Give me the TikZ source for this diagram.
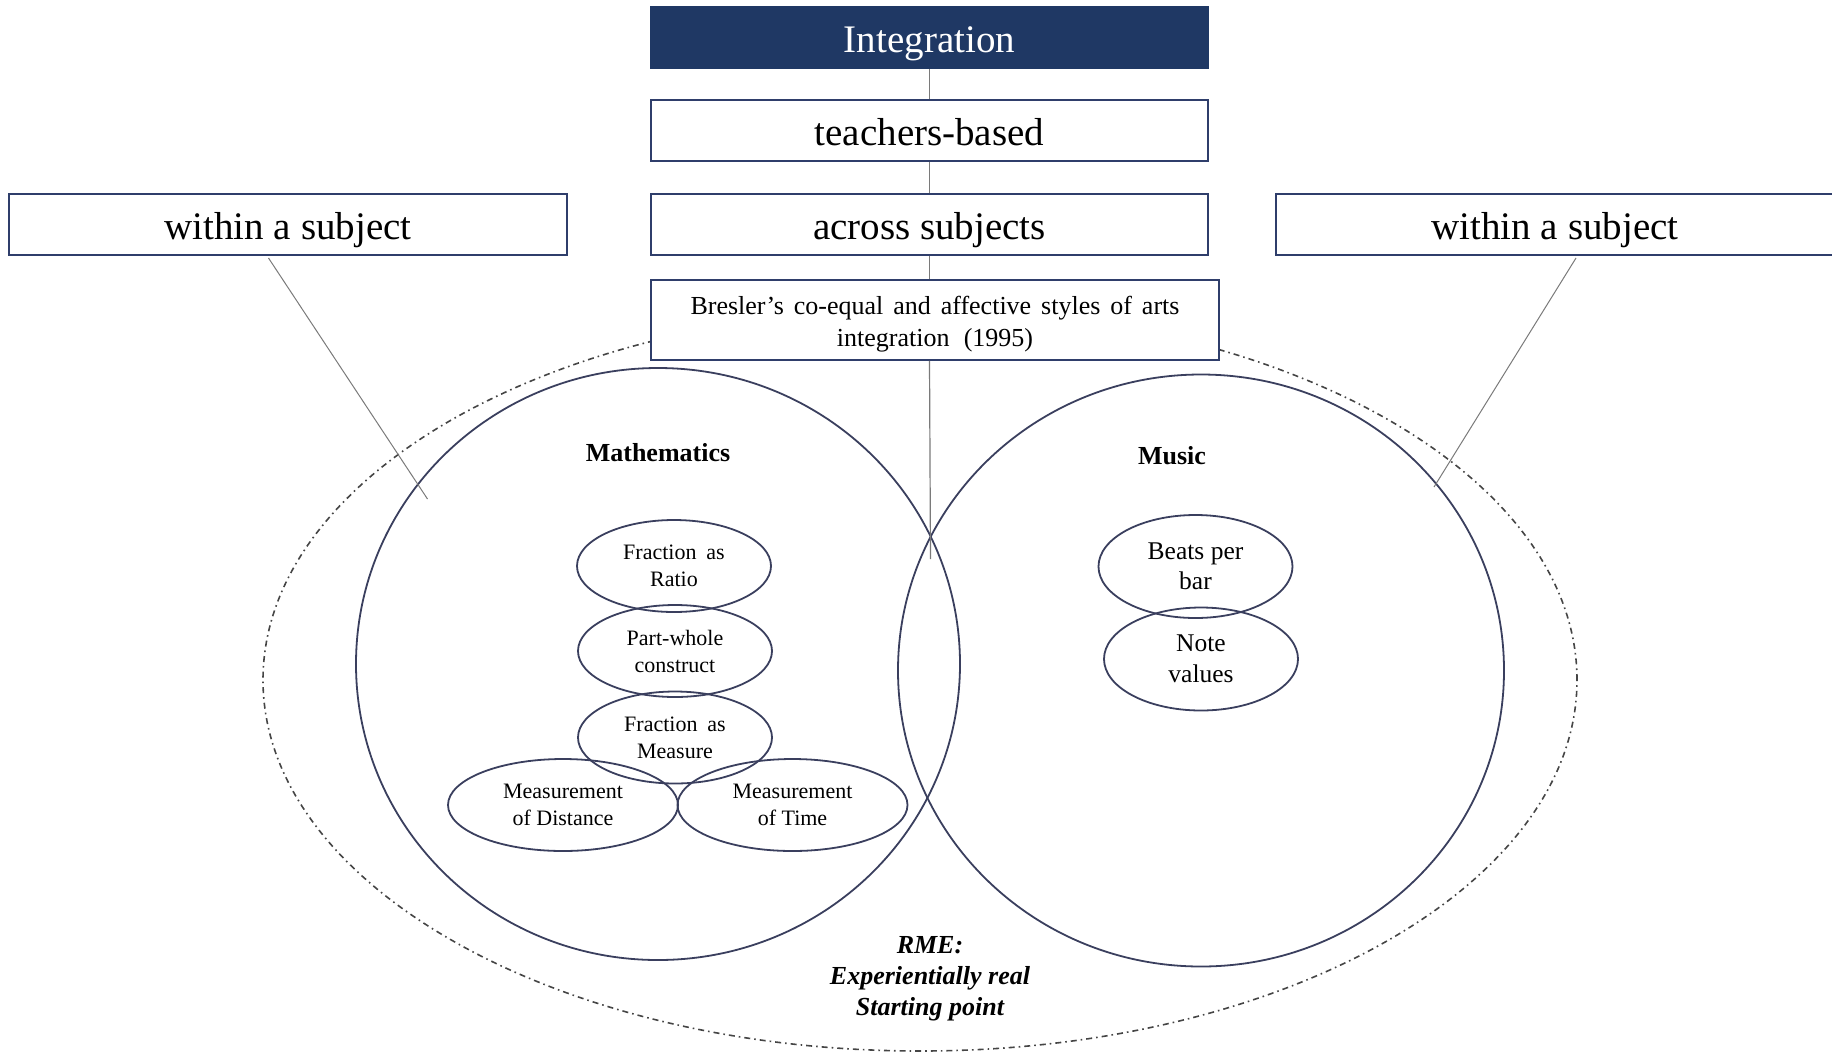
\documentclass[tikz,border=0pt]{standalone}
\usepackage{fontspec}
\setmainfont{Liberation Serif}
\usetikzlibrary{shapes.geometric}
\definecolor{navy}{HTML}{1F3864}
\definecolor{boxline}{HTML}{2F3E6B}
\definecolor{ringline}{HTML}{3A3F5E}
\definecolor{leader}{HTML}{7A7A7A}
\definecolor{outline}{HTML}{454545}

\begin{document}
\begin{tikzpicture}[x=0.5pt,y=-0.5pt,
  box/.style={draw=boxline, line width=0.9pt, fill=white, rectangle, inner sep=0pt,
    minimum width=278.5pt, minimum height=30.5pt, text height=18pt, text depth=3.5pt,
    font=\fontsize{19.5}{23}\selectfont},
  sidebox/.style={box, minimum width=279pt},
  ring/.style={draw=ringline, line width=0.9pt, ellipse, inner sep=0pt},
  bigring/.style={ring, minimum width=302pt, minimum height=296pt},
  topic/.style={ring, minimum width=97pt, minimum height=46pt, align=center,
    font=\fontsize{11}{13.5}\selectfont},
  widetopic/.style={topic, minimum width=115pt},
  musictopic/.style={ring, minimum width=97pt, minimum height=51.5pt, align=center,
    font=\fontsize{12.75}{15.25}\selectfont},
  heading/.style={inner sep=0pt, font=\fontsize{13}{15}\selectfont\bfseries},
  stem/.style={draw=leader, line width=0.6pt},
  pointer/.style={draw=leader, line width=0.5pt},
]
\useasboundingbox (0,0) rectangle (1832,1056);

% outer dash-dot frame (RME)
\node[draw=outline, line width=0.8pt, ellipse, inner sep=0pt,
  minimum width=657pt, minimum height=371pt,
  dash pattern=on 3pt off 2pt on 0.8pt off 2pt] (rme) at (920,680) {};

% subject circles
\node[bigring] (mathc) at (658,664) {};
\node[bigring, minimum width=303pt] (musicc) at (1201,670.5) {};

% central hierarchy
\node[box, fill=navy, draw=navy, text=white] (integ) at (929.5,37.5) {Integration};
\node[box] (teach) at (929.5,130.5) {teachers-based};
\node[box] (across) at (929.5,224.5) {across subjects};
\node[box, minimum width=284pt, minimum height=40pt, text height=, text depth=] (bres) at (935,320) {};
\node[align=center, inner sep=0pt, font=\fontsize{13}{16}\selectfont] (brestext) at (935,324)
  {\makebox[244.5pt][s]{Bresler’s co-equal and affective styles of arts}\\integration\hspace{0.55em}(1995)};
\coordinate (stemend) at (930.5,559);

\draw[stem] (integ.south) -- (teach.north);
\draw[stem] (teach.south) -- (across.north);
\draw[stem] (across.south) -- (across.south |- bres.north);
\draw[stem] (across.south |- bres.south) -- (stemend);

% side boxes
\node[sidebox] (wleft) at (288,224.5) {within a subject};
\node[sidebox] (wright) at (1555,224.5) {within a subject};
\coordinate (wlfoot) at (268.5,258);
\coordinate (wlend) at (427.5,499);
\coordinate (wrfoot) at (1576,258);
\coordinate (wrend) at (1434,487);
\draw[pointer] (wlfoot) -- (wlend);
\draw[pointer] (wrfoot) -- (wrend);

% headings
\node[heading] (mathlbl) at (658,453) {Mathematics};
\node[heading] (musiclbl) at (1172,456) {Music};

% mathematics topics
\node[topic] (ratio) at (674,566) {Fraction\hspace{0.45em}as\\Ratio};
\node[topic] (partw) at (675,651) {Part-whole\\construct};
\node[topic] (measure) at (675,737.5) {Fraction\hspace{0.45em}as\\Measure};
\node[widetopic] (dist) at (563,805) {Measurement\\of Distance};
\node[widetopic] (time) at (792.5,805) {Measurement\\of Time};

% music topics
\node[musictopic] (beats) at (1195.5,566.5) {Beats per\\bar};
\node[musictopic] (notes) at (1201,659) {Note\\values};

% RME caption
\node[align=center, inner sep=0pt, font=\fontsize{13}{15.5}\selectfont\bfseries\itshape]
  (rmetext) at (930,979) {RME:\\Experientially real\\Starting point};
\end{tikzpicture}
\end{document}
